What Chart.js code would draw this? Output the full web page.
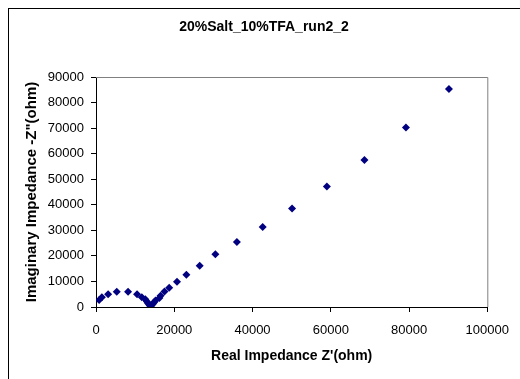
<!DOCTYPE html>
<html>
<head>
<meta charset="utf-8">
<script src="https://cdn.jsdelivr.net/npm/chart.js@4.4.0/dist/chart.umd.min.js"></script>
<style>
  body { margin: 0; background: #fff; }
  #frame { position: absolute; left: 8px; top: 8px; width: 600px; height: 420px; border: 1px solid #000; }
  #wrap { position: absolute; left: 0; top: 0; width: 520px; height: 379px; }
</style>
</head>
<body>
<div id="frame"></div>
<div id="wrap"><canvas id="myChart" width="520" height="379"></canvas></div>
<script>
// Nyquist data (ohm)
var realZ = [800, 1500, 3100, 5300, 8200, 10500, 11700, 12600, 13000, 13300, 13600, 13800, 14000, 14200, 14500, 14800, 15200, 16200, 16500, 17500, 18700, 20700, 23100, 26500, 30500, 36000, 42600, 50100, 59000, 68600, 79200, 90200];
var imagZ = [2700, 3800, 5000, 6000, 6000, 5000, 3800, 3000, 2200, 1500, 900, 500, 400, 700, 1200, 1800, 2500, 3500, 4400, 6100, 7500, 9900, 12600, 16100, 20600, 25400, 31300, 38500, 47200, 57500, 70200, 85300];
var xTicks = [0, 20000, 40000, 60000, 80000, 100000];
var yTicks = [0, 10000, 20000, 30000, 40000, 50000, 60000, 70000, 80000, 90000];
var chartTitle = '20%Salt_10%TFA_run2_2';

var pts = realZ.map(function (v, i) { return { x: v, y: imagZ[i] } });

// grey border on top/right of plot area like excel, plus the title centred on the frame
const plotBorder = {
    id: 'plotBorder',
    afterDatasetsDraw: function (chart) {
        var a = chart.chartArea, c = chart.ctx;
        c.save();
        c.strokeStyle = '#808080';
        c.lineWidth = 1;
        c.beginPath();
        c.moveTo(a.left, a.top + 0.5);
        c.lineTo(a.right + 0.5, a.top + 0.5);
        c.lineTo(a.right + 0.5, a.bottom);
        c.stroke();
        c.fillStyle = '#000';
        c.font = 'bold 14px "Liberation Sans"';
        c.textAlign = 'center';
        c.textBaseline = 'middle';
        c.fillText(chartTitle, 264, 27);
        c.restore();
    }
};

new Chart("myChart", {
    type: 'scatter',
    data: {
        datasets: [{
            data: pts,
            pointStyle: 'rectRot',
            pointRadius: 4,
            pointBackgroundColor: '#000080',
            pointBorderColor: '#000080',
            pointBorderWidth: 0
        }]
    },
    plugins: [plotBorder],
    options: {
        responsive: false,
        animation: false,
        layout: { padding: { left: 0, right: 26, top: 77, bottom: 0 } },
        plugins: {
            legend: { display: false },
            tooltip: { enabled: false },
            title: { display: false }
        },
        scales: {
            x: {
                type: 'linear',
                min: 0, max: 100000,
                afterBuildTicks: function (s) { s.ticks = xTicks.map(function (v) { return { value: v } }) },
                afterFit: function (s) { s.height = 72 },
                grid: { drawOnChartArea: false, color: '#000', tickLength: 5 },
                border: { color: '#000' },
                ticks: {
                    color: '#000', font: { family: 'Liberation Sans', size: 13 }, padding: 11, maxRotation: 0,
                    callback: function (v) { return String(v) }
                },
                title: {
                    display: true,
                    text: "Real Impedance Z'(ohm)",
                    color: '#000',
                    font: { family: 'Liberation Sans', size: 14, weight: 'bold' },
                    padding: { top: 0, bottom: 14 }
                }
            },
            y: {
                type: 'linear',
                min: 0, max: 90000,
                afterBuildTicks: function (s) { s.ticks = yTicks.map(function (v) { return { value: v } }) },
                afterFit: function (s) { s.width = 96 },
                grid: { drawOnChartArea: false, color: '#000', tickLength: 5 },
                border: { color: '#000' },
                ticks: {
                    color: '#000', font: { family: 'Liberation Sans', size: 13 }, padding: 7,
                    callback: function (v) { return String(v) }
                },
                title: {
                    display: true,
                    text: 'Imaginary Impedance -Z"(ohm)',
                    color: '#000',
                    font: { family: 'Liberation Sans', size: 15, weight: 'bold' },
                    padding: { top: 23, bottom: 0 }
                }
            }
        }
    }
});
</script>
</body>
</html>
